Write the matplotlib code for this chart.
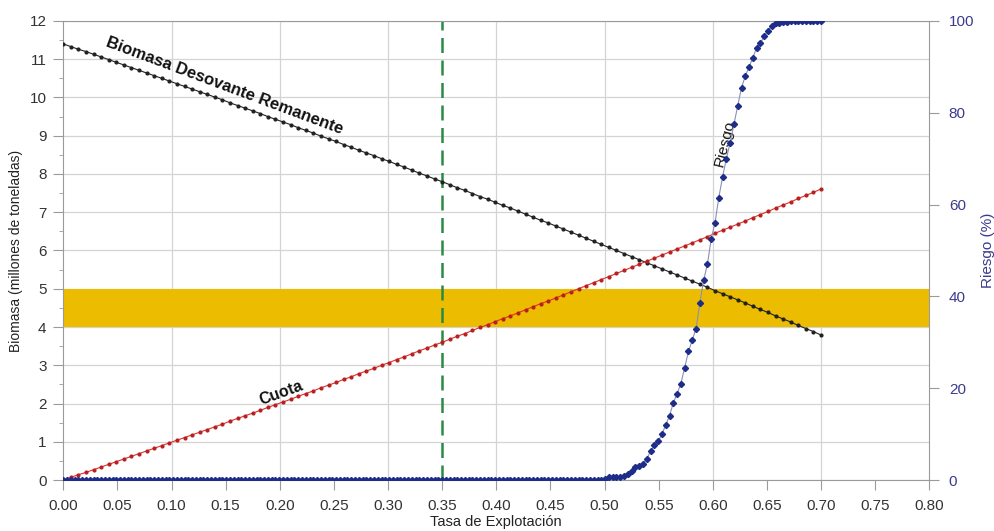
#!/usr/bin/env python3
import numpy as np
import matplotlib
matplotlib.use("Agg")
import matplotlib.pyplot as plt
from matplotlib.ticker import MultipleLocator, FormatStrFormatter

# tasa de explotacion para biomasa y cuota (pasos de 0.007)
tasa = np.round(np.arange(0, 101) * 0.007, 3)

cuota = [
    0.00, 0.07, 0.14, 0.20, 0.27, 0.34, 0.41, 0.48, 0.55, 0.62, 0.69,
    0.76, 0.83, 0.90, 0.97, 1.04, 1.11, 1.18, 1.25, 1.32, 1.39,
    1.46, 1.54, 1.61, 1.68, 1.75, 1.82, 1.90, 1.97, 2.04, 2.11,
    2.19, 2.26, 2.33, 2.41, 2.48, 2.55, 2.63, 2.70, 2.78, 2.85,
    2.92, 3.00, 3.07, 3.15, 3.22, 3.30, 3.38, 3.45, 3.53, 3.60,
    3.68, 3.76, 3.83, 3.91, 3.99, 4.06, 4.14, 4.22, 4.29, 4.37,
    4.45, 4.53, 4.61, 4.68, 4.76, 4.84, 4.92, 5.00, 5.08, 5.16,
    5.24, 5.32, 5.40, 5.48, 5.56, 5.64, 5.72, 5.80, 5.88, 5.96,
    6.04, 6.12, 6.20, 6.28, 6.36, 6.45, 6.53, 6.61, 6.69, 6.77,
    6.86, 6.94, 7.02, 7.11, 7.19, 7.27, 7.36, 7.44, 7.52, 7.61,
]

biomasa = [
    11.40, 11.33, 11.26, 11.20, 11.13, 11.06, 10.99, 10.92, 10.85, 10.78,
    10.71, 10.64, 10.57, 10.50, 10.43, 10.36, 10.29, 10.22, 10.15, 10.08,
    10.01, 9.94, 9.86, 9.79, 9.72, 9.65, 9.58, 9.50, 9.43, 9.36,
    9.29, 9.21, 9.14, 9.07, 8.99, 8.92, 8.85, 8.77, 8.70, 8.62,
    8.55, 8.48, 8.40, 8.33, 8.25, 8.18, 8.10, 8.02, 7.95, 7.87,
    7.80, 7.72, 7.64, 7.57, 7.49, 7.41, 7.34, 7.26, 7.18, 7.11,
    7.03, 6.95, 6.87, 6.79, 6.72, 6.64, 6.56, 6.48, 6.40, 6.32,
    6.24, 6.16, 6.08, 6.00, 5.92, 5.84, 5.76, 5.68, 5.60, 5.52,
    5.44, 5.36, 5.28, 5.20, 5.12, 5.04, 4.95, 4.87, 4.79, 4.71,
    4.63, 4.54, 4.46, 4.38, 4.29, 4.21, 4.13, 4.04, 3.96, 3.88,
    3.79,
]

# riesgo (%) en pasos de 0.0035; cero hasta 0.50
tasa_riesgo = np.round(np.arange(0, 201) * 0.0035, 4)
riesgo = [0.0] * 143 + [
    0.3, 0.6, 0.7, 0.7, 0.7, 0.8, 1.4, 2.0, 2.8, 3.0,
    3.5, 4.6, 6.3, 7.6, 8.4, 10.0, 12.0, 14.0, 16.8, 18.8,
    21.0, 24.5, 28.0, 30.5, 33.0, 38.5, 43.5, 47.0, 52.5, 56.0,
    61.5, 66.0, 70.0, 73.5, 77.5, 81.5, 85.5, 88.0, 90.0, 92.0,
    94.2, 95.1, 96.7, 97.9, 98.9, 99.5, 99.6, 99.7, 99.8,
    100.0, 100.0, 100.0, 100.0, 100.0, 100.0, 100.0, 100.0, 100.0,
]

banda = (4, 5)
tasa_ref = 0.35

GRIS = "#9a9a9a"
AZUL = "#3b3b8f"


def setup_axes(fig):
    """eje izquierdo (biomasa) y derecho (riesgo)"""
    ax = fig.add_axes([0.0636, 0.096, 0.8704, 0.8645])
    ax.set_xlim(0, 0.8)
    ax.set_ylim(0, 12)
    ax.xaxis.set_major_locator(MultipleLocator(0.05))
    ax.xaxis.set_major_formatter(FormatStrFormatter("%.2f"))
    ax.yaxis.set_major_locator(MultipleLocator(1))
    ax.yaxis.set_minor_locator(MultipleLocator(0.5))
    for x in np.arange(0.1, 0.8, 0.1):
        ax.axvline(x, color="#d4d4d4", lw=0.9, zorder=0)
    ax.grid(axis="y", which="major", color="#d4d4d4", lw=0.9, zorder=0)
    ax.set_axisbelow(True)
    for s in ax.spines.values():
        s.set_color(GRIS)
    ax.tick_params(axis="both", colors=GRIS, labelcolor="#333333",
                   labelsize=11, length=7)
    ax.tick_params(axis="y", which="minor", colors=GRIS, length=3)
    ax.tick_params(axis="y", pad=5)
    ax.tick_params(axis="x", pad=7)
    ax.set_xlabel("Tasa de Explotación", fontsize=10.5, color="#222222",
                  labelpad=1)
    ax.set_ylabel("Biomasa (millones de toneladas)", fontsize=10,
                  color="#222222", labelpad=5)

    ax2 = ax.twinx()
    ax2.set_ylim(0, 100)
    ax2.yaxis.set_major_locator(MultipleLocator(20))
    ax2.tick_params(axis="y", colors=GRIS, labelcolor=AZUL,
                    labelsize=11, length=7, pad=7)
    for s in ax2.spines.values():
        s.set_visible(False)
    ax2.set_ylabel("Riesgo (%)", fontsize=11, color=AZUL, labelpad=5)
    return ax, ax2


def main():
    """dibuja biomasa, cuota y riesgo contra tasa de explotacion"""
    plt.rcParams["font.family"] = ["Liberation Sans", "DejaVu Sans"]
    fig = plt.figure(figsize=(9.95, 5.31), dpi=100)
    ax, ax2 = setup_axes(fig)

    ax.axhspan(banda[0], banda[1], color="#ecbc00", lw=0, zorder=1)
    ax.axvline(tasa_ref, color="#2a8a45", lw=1.8, ls=(0, (6, 3)), zorder=2)

    ax.plot(tasa, biomasa, color="#222222", lw=0.8, marker="o", ms=2.0,
            zorder=3)
    ax.plot(tasa, cuota, color="#e03030", lw=0.8, marker="o", ms=2.0,
            mfc="#b82020", mec="#b82020", zorder=3)

    ax2.plot(tasa_riesgo, riesgo, color="#8a90b8", lw=0.8, marker="D",
             ms=3.1, mfc="#1f2d8a", mec="#1f2d8a", zorder=3)

    ax.text(0.1487, 10.30, "Biomasa Desovante Remanente", fontsize=12,
            fontweight="bold", rotation=-20.5, ha="center", va="center",
            color="#111111", zorder=5)
    ax.text(0.201, 2.27, "Cuota", fontsize=11.5, fontweight="bold",
            rotation=20, ha="center", va="center", color="#111111",
            zorder=5)
    ax.text(0.611, 8.81, "Riesgo", fontsize=11, rotation=76,
            ha="center", va="center", color="#111111", zorder=5)

    fig.savefig("out.png", dpi=100)


if __name__ == "__main__":
    main()
